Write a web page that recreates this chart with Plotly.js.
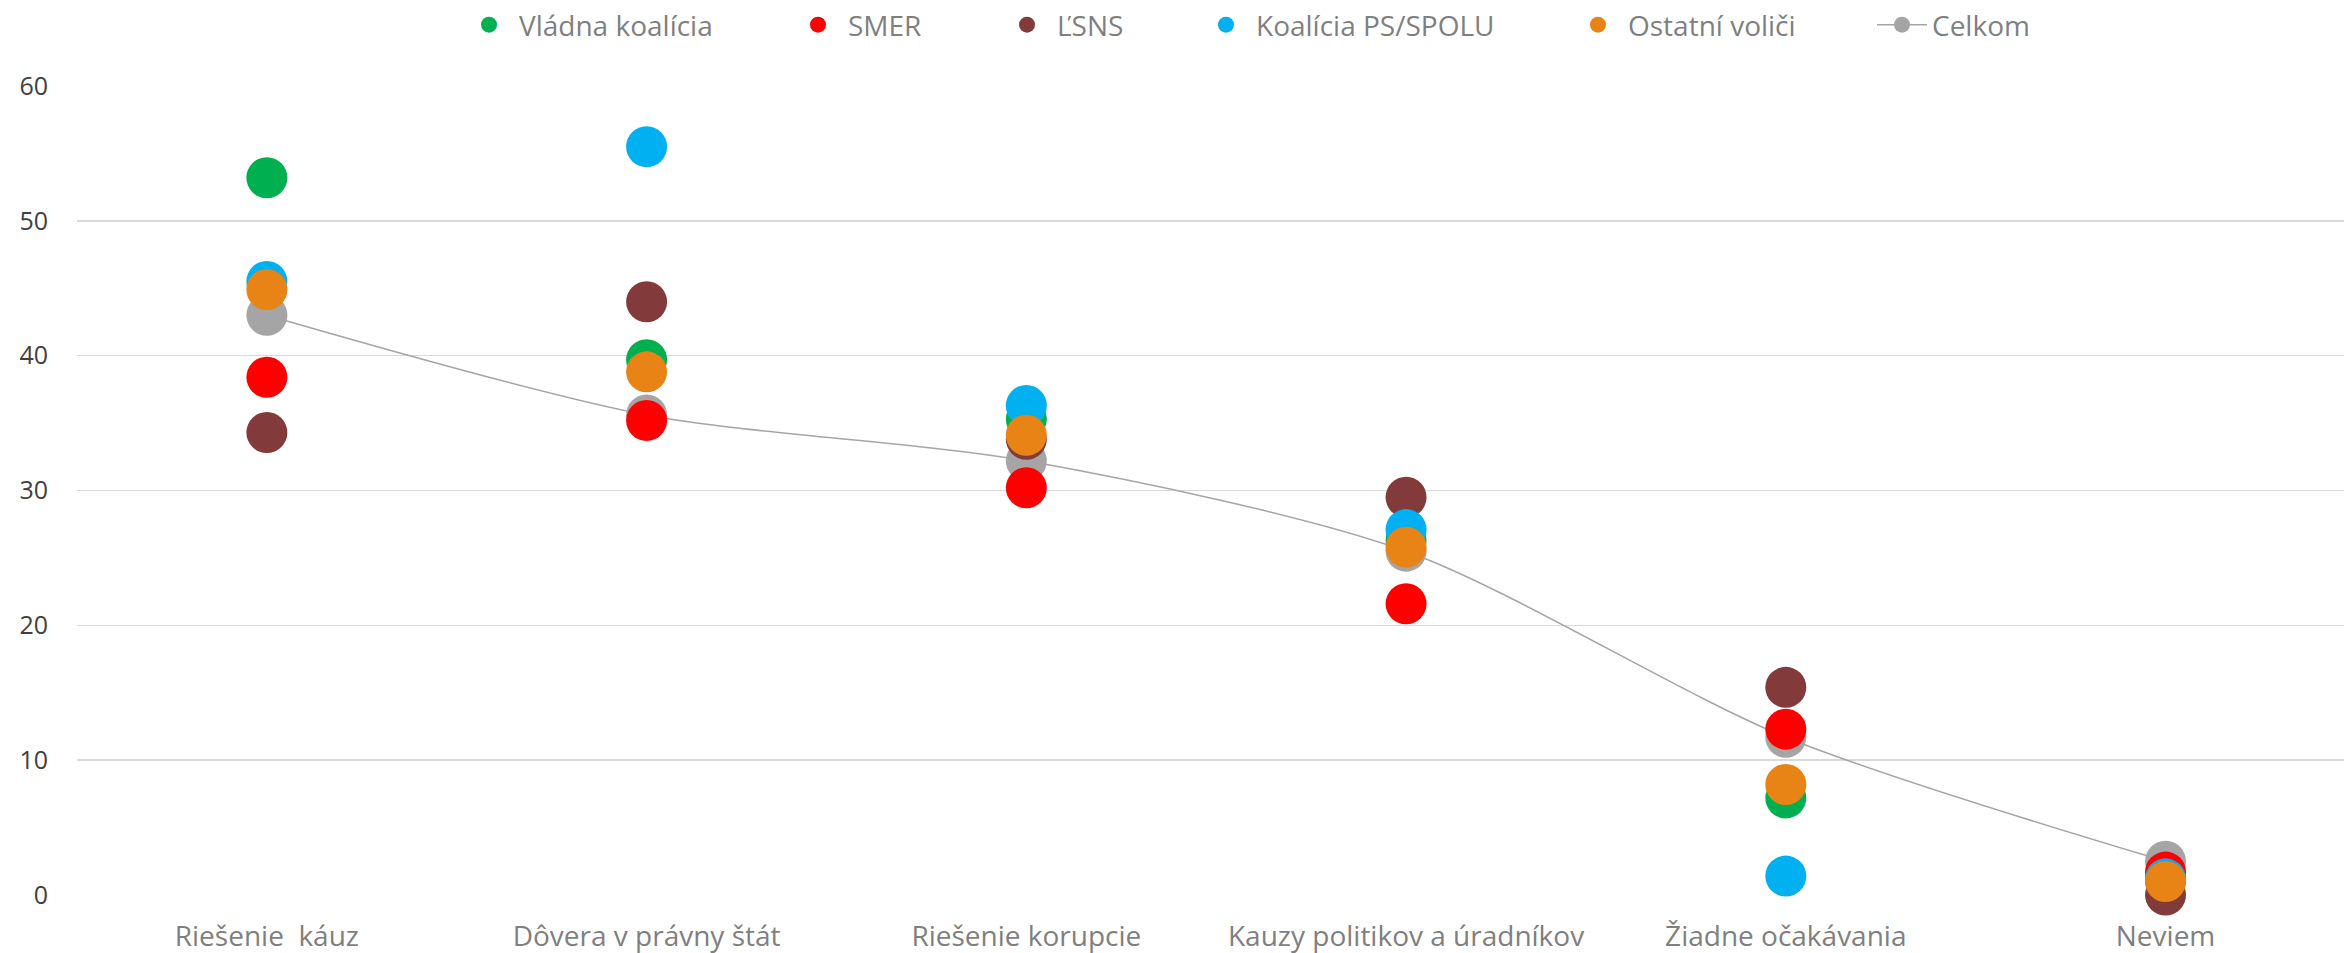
<!DOCTYPE html>
<html>
<head>
<meta charset="utf-8">
<script src="https://cdn.plot.ly/plotly-3.0.1.min.js"></script>
<style>
  html, body { margin: 0; padding: 0; background: #fff; }
  #chart { width: 2344px; height: 953px; }
</style>
</head>
<body>
<div id="chart"></div>
<script>
// categories (double space in the first one kept visible)
var categories = ["Riešenie\u00a0 káuz", "Dôvera v právny štát", "Riešenie korupcie",
  "Kauzy politikov a úradníkov", "Žiadne očakávania", "Neviem"];

// values, in percent
var vladnaKoalicia = [53.2, 39.7, 35.3, 26.3, 7.2, 1.1];
var smer = [38.4, 35.2, 30.2, 21.6, 12.3, 1.7];
var lsns = [34.3, 44.0, 33.8, 29.5, 15.4, 0.0];
var psSpolu = [45.5, 55.5, 36.3, 27.1, 1.4, 1.2];
var ostatni = [44.9, 38.8, 34.1, 25.8, 8.2, 1.0];
var celkom = [43.0, 35.6, 32.2, 25.5, 11.7, 2.5];

var fontFamily = "'Open Sans', 'Noto Sans', sans-serif";
var markerSize = 41;

// plot area in pixels, used to place the separate legends
var plotLeft = 77;
var plotWidth = 2344 - 77;
function paperX(px) {
  return (px - plotLeft) / plotWidth;
}

function dots(name, values, color, legendId) {
  return {
    x: categories,
    y: values,
    name: name,
    type: "scatter",
    mode: "markers",
    marker: { color: color, size: markerSize },
    cliponaxis: false,
    legend: legendId,
  };
}

// Celkom goes first so it is drawn underneath the others
var traces = [
  {
    x: categories,
    y: celkom,
    name: "Celkom",
    type: "scatter",
    mode: "lines+markers",
    line: { color: "#a5a5a5", width: 1.5, shape: "spline", smoothing: 0.8 },
    marker: { color: "#a5a5a5", size: markerSize },
    cliponaxis: false,
    legend: "legend6",
  },
  dots("Vládna koalícia", vladnaKoalicia, "#00b050", "legend"),
  dots("SMER", smer, "#ff0000", "legend2"),
  dots("ĽSNS", lsns, "#833a3a", "legend3"),
  dots("Koalícia PS/SPOLU", psSpolu, "#00b0f0", "legend4"),
  dots("Ostatní voliči", ostatni, "#e88316", "legend5"),
];

// one legend per series so the entries can be spread like in the original
// (px = where the legend symbol centre should land)
function legendAt(px) {
  return {
    orientation: "h",
    x: paperX(px - 30),
    xanchor: "left",
    y: 1.075,
    yanchor: "middle",
    font: { size: 28, color: "#7f7f7f" },
    itemsizing: "trace",
    itemwidth: 50,
    bgcolor: "rgba(0,0,0,0)",
  };
}

var layout = {
  width: 2344,
  height: 953,
  margin: { l: 77, r: 0, t: 85, b: 58 },
  paper_bgcolor: "#ffffff",
  plot_bgcolor: "#ffffff",
  font: { family: fontFamily, color: "#7f7f7f", size: 24 },
  showlegend: true,
  legend: legendAt(489),
  legend2: legendAt(818),
  legend3: legendAt(1027),
  legend4: legendAt(1226),
  legend5: legendAt(1598),
  legend6: legendAt(1902),
  xaxis: {
    type: "category",
    range: [-0.5, 5.47],
    showgrid: false,
    zeroline: false,
    showline: false,
    ticks: "",
    ticklabelstandoff: 22,
    tickfont: { size: 28, color: "#7f7f7f" },
  },
  yaxis: {
    range: [0, 60],
    dtick: 10,
    showgrid: true,
    gridcolor: "#d9d9d9",
    gridwidth: 1.5,
    zeroline: false,
    showline: false,
    ticks: "",
    ticklabelstandoff: 28,
    tickfont: { size: 25, color: "#404040" },
  },
};

Plotly.newPlot("chart", traces, layout, { displayModeBar: false, staticPlot: true });
</script>
</body>
</html>
